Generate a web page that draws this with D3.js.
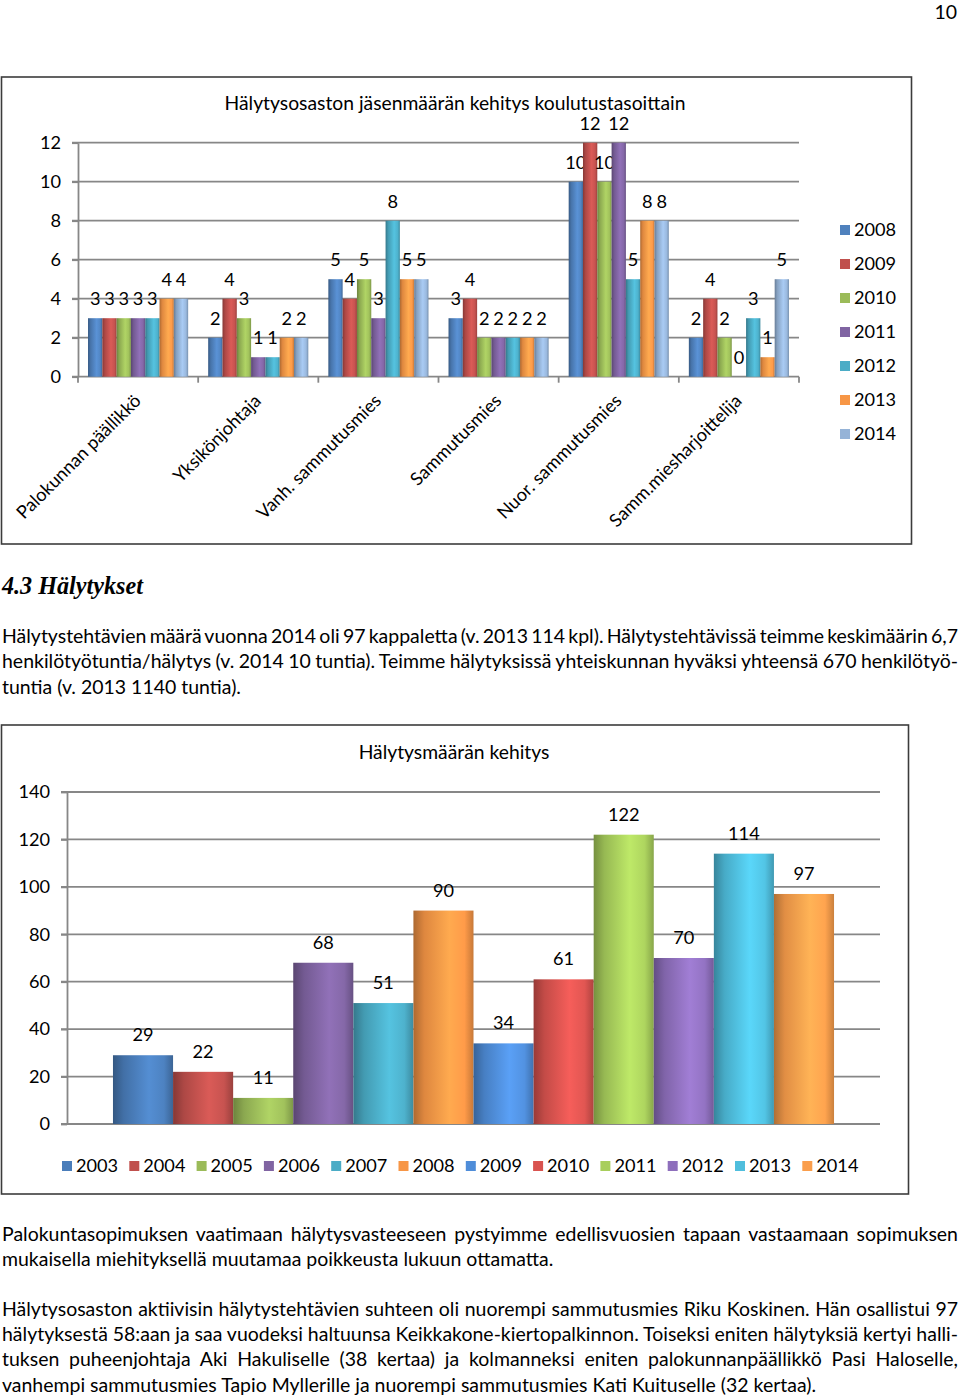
<!DOCTYPE html>
<html><head><meta charset="utf-8">
<script src="https://cdn.jsdelivr.net/npm/d3@7"></script>
<style>body{margin:0;background:#fff}svg{display:block}</style>
</head><body>
<script>
// ---------- DATA ----------
const categories = ["Palokunnan päällikkö","Yksikönjohtaja","Vanh. sammutusmies","Sammutusmies","Nuor. sammutusmies","Samm.miesharjoittelija"];
const memberYears = ["2008","2009","2010","2011","2012","2013","2014"];
const members2008 = [3,2,5,3,10,2];
const members2009 = [3,4,4,4,12,4];
const members2010 = [3,3,5,2,10,2];
const members2011 = [3,1,3,2,12,0];
const members2012 = [3,1,8,2,5,3];
const members2013 = [4,2,5,2,8,1];
const members2014 = [4,2,5,2,8,5];
const memberSeries = [members2008,members2009,members2010,members2011,members2012,members2013,members2014];
const memberTicks = [0,2,4,6,8,10,12];
const memberColors = ["#4F81BD","#C0504D","#9BBB59","#8064A2","#4BACC6","#F79646","#95B3D7"];

const alarmYears = ["2003","2004","2005","2006","2007","2008","2009","2010","2011","2012","2013","2014"];
const alarmValues = [29,22,11,68,51,90,34,61,122,70,114,97];
const alarmTicks = [0,20,40,60,80,100,120,140];
const alarmColors = ["#4A7DBA","#C0504D","#9BBB59","#8064A2","#4BACC6","#F79646","#4F8DD9","#D9534F","#A8CE5C","#8E6FBC","#4FBEDD","#FA9E4C"];

const title1 = "Hälytysosaston jäsenmäärän kehitys koulutustasoittain";
const title2 = "Hälytysmäärän kehitys";
const heading = "4.3 Hälytykset";
const para1 = [
  ["Hälytystehtävien määrä vuonna 2014 oli 97 kappaletta (v. 2013 114 kpl). Hälytystehtävissä teimme keskimäärin 6,7", true],
  ["henkilötyötuntia/hälytys (v. 2014 10 tuntia). Teimme hälytyksissä yhteiskunnan hyväksi yhteensä 670 henkilötyö-", true],
  ["tuntia (v. 2013 1140 tuntia).", false]
];
const para2 = [
  ["Palokuntasopimuksen vaatimaan hälytysvasteeseen pystyimme edellisvuosien tapaan vastaamaan sopimuksen", true],
  ["mukaisella miehityksellä muutamaa poikkeusta lukuun ottamatta.", false]
];
const para3 = [
  ["Hälytysosaston aktiivisin hälytystehtävien suhteen oli nuorempi sammutusmies Riku Koskinen. Hän osallistui 97", true],
  ["hälytyksestä 58:aan ja saa vuodeksi haltuunsa Keikkakone-kiertopalkinnon. Toiseksi eniten hälytyksiä kertyi halli-", true],
  ["tuksen puheenjohtaja Aki Hakuliselle (38 kertaa) ja kolmanneksi eniten palokunnanpäällikkö Pasi Haloselle,", true],
  ["vanhempi sammutusmies Tapio Myllerille ja nuorempi sammutusmies Kati Kuituselle (32 kertaa).", false]
];

// ---------- SETUP ----------
const W = 960, H = 1397;
const FONT = "Lato, 'Open Sans', sans-serif";
const SERIF = "'Liberation Serif', 'DejaVu Serif', serif";
const svg = d3.select("body").append("svg").attr("width", W).attr("height", H);
const defs = svg.append("defs");

function measure(text, size, family, weight, style) {
  const t = svg.append("text").attr("font-family", family).attr("font-size", size)
    .attr("font-weight", weight || "normal").attr("font-style", style || "normal").text(text);
  const w = t.node().getComputedTextLength(); t.remove(); return w;
}
const bodySize = 17.7 * 551 / measure("mukaisella miehityksellä muutamaa poikkeusta lukuun ottamatta.", 17.7, FONT);
const titleSize = 17 * 461 / measure(title1, 17, FONT);
const chartSize = titleSize * 16 / 17;
const headSize = 21 * 141 / measure(heading, 21, SERIF, "bold", "italic");

function grad(color) {
  const id = "g" + color.slice(1);
  if (defs.select("#" + id).empty()) {
    const c = d3.color(color);
    const lg = defs.append("linearGradient").attr("id", id).attr("x1", 0).attr("x2", 1).attr("y1", 0).attr("y2", 0);
    [[0, c.darker(1.0)], [0.18, c.darker(0.3)], [0.6, c.brighter(0.35)], [0.85, c.brighter(0.1)], [1, c.darker(0.6)]]
      .forEach(([o, col]) => lg.append("stop").attr("offset", o).attr("stop-color", col));
  }
  return `url(#${id})`;
}

function textLine(x, y, text, justifyTo, size, family) {
  const t = svg.append("text").attr("x", x).attr("y", y).attr("font-family", family || FONT)
    .attr("font-size", size || bodySize).attr("fill", "#000").text(text);
  if (justifyTo) {
    const w = t.node().getComputedTextLength();
    const n = (text.match(/ /g) || []).length;
    if (n) t.attr("word-spacing", (justifyTo - x - w) / n);
  }
  return t;
}

const GRID = "#878787", FRAME = "#3c3c3c";

// page number
textLine(957, 19, "10", false, bodySize).attr("text-anchor", "end");

// ---------- CHART 1 ----------
const c1 = {left: 78, right: 799, top: 142.7, bottom: 376.7};
svg.append("rect").attr("x", 1.5).attr("y", 77).attr("width", 910).attr("height", 467)
  .attr("fill", "none").attr("stroke", FRAME).attr("stroke-width", 1.6);
svg.append("text").attr("x", 455).attr("y", 110).attr("text-anchor", "middle")
  .attr("font-family", FONT).attr("font-size", titleSize).text(title1);

const y1 = d3.scaleLinear().domain([0, 12]).range([c1.bottom, c1.top]);
const x0 = d3.scaleBand().domain(categories).range([c1.left, c1.right]);
const x1 = d3.scaleBand().domain(memberYears).range([0, x0.bandwidth()]).paddingOuter(0.7);

const g1 = svg.append("g");
g1.selectAll("line.grid").data(memberTicks).join("line").attr("class", "grid")
  .attr("x1", c1.left - 6).attr("x2", c1.right).attr("y1", d => y1(d)).attr("y2", d => y1(d))
  .attr("stroke", GRID).attr("stroke-width", 1.8);
const ax1 = g1.append("g").attr("transform", `translate(${c1.left},0)`)
  .call(d3.axisLeft(y1).tickValues(memberTicks).tickSizeInner(6).tickSizeOuter(0).tickPadding(11));
ax1.select(".domain").attr("stroke", GRID).attr("stroke-width", 1.8);
ax1.selectAll(".tick line").attr("stroke", GRID).attr("stroke-width", 1.8);
ax1.selectAll(".tick text").attr("font-family", FONT).attr("font-size", chartSize).attr("fill", "#000");
const bounds = categories.map(c => x0(c)).concat([c1.right]);
g1.selectAll("line.bt").data(bounds).join("line").attr("class", "bt")
  .attr("x1", d => d).attr("x2", d => d).attr("y1", c1.bottom).attr("y2", c1.bottom + 6)
  .attr("stroke", GRID).attr("stroke-width", 1.8);

memberYears.forEach((yr, i) => {
  const vals = memberSeries[i];
  g1.append("g").selectAll("rect").data(categories).join("rect")
    .attr("x", (c) => x0(c) + x1(yr)).attr("width", x1.bandwidth())
    .attr("y", (c, j) => y1(vals[j])).attr("height", (c, j) => c1.bottom - y1(vals[j]))
    .attr("fill", grad(memberColors[i]));
  g1.append("g").selectAll("text").data(categories).join("text")
    .attr("x", (c) => x0(c) + x1(yr) + x1.bandwidth() / 2)
    .attr("y", (c, j) => y1(vals[j]) - 13)
    .attr("text-anchor", "middle").attr("font-family", FONT).attr("font-size", chartSize)
    .text((c, j) => vals[j]);
});
g1.selectAll("text.cat").data(categories).join("text").attr("class", "cat")
  .attr("transform", c => `translate(${x0(c) + x0.bandwidth() / 2 + 4},402) rotate(-45)`)
  .attr("text-anchor", "end").attr("font-family", FONT).attr("font-size", chartSize).text(c => c);
const leg1 = g1.append("g");
memberYears.forEach((yr, i) => {
  const yc = 230 + i * 34;
  leg1.append("rect").attr("x", 840).attr("y", yc - 5).attr("width", 10).attr("height", 10).attr("fill", memberColors[i]);
  leg1.append("text").attr("x", 854).attr("y", yc + 6).attr("font-family", FONT).attr("font-size", chartSize).text(yr);
});

// ---------- TEXT BETWEEN ----------
svg.append("text").attr("x", 2).attr("y", 594).attr("font-family", SERIF).attr("font-weight", "bold")
  .attr("font-style", "italic").attr("font-size", headSize).text(heading);
para1.forEach(([t, j], i) => textLine(2, 643 + i * 25.4, t, j ? 958 : null));

// ---------- CHART 2 ----------
const c2 = {left: 67, right: 880, top: 792, bottom: 1124};
svg.append("rect").attr("x", 1.5).attr("y", 725).attr("width", 907).attr("height", 469)
  .attr("fill", "none").attr("stroke", FRAME).attr("stroke-width", 1.6);
svg.append("text").attr("x", 454).attr("y", 759).attr("text-anchor", "middle")
  .attr("font-family", FONT).attr("font-size", titleSize).text(title2);

const y2 = d3.scaleLinear().domain([0, 140]).range([c2.bottom, c2.top]);
const x2 = d3.scaleBand().domain(alarmYears).range([c2.left, c2.right]).paddingInner(0).paddingOuter(0.765);
const g2 = svg.append("g");
g2.selectAll("line.grid").data(alarmTicks).join("line").attr("class", "grid")
  .attr("x1", c2.left - 6).attr("x2", c2.right).attr("y1", d => y2(d)).attr("y2", d => y2(d))
  .attr("stroke", GRID).attr("stroke-width", 1.8);
const ax2 = g2.append("g").attr("transform", `translate(${c2.left},0)`)
  .call(d3.axisLeft(y2).tickValues(alarmTicks).tickSizeInner(6).tickSizeOuter(0).tickPadding(11));
ax2.select(".domain").attr("stroke", GRID).attr("stroke-width", 1.8);
ax2.selectAll(".tick line").attr("stroke", GRID).attr("stroke-width", 1.8);
ax2.selectAll(".tick text").attr("font-family", FONT).attr("font-size", chartSize).attr("fill", "#000");

g2.selectAll("rect.bar").data(alarmYears).join("rect").attr("class", "bar")
  .attr("x", d => x2(d)).attr("width", x2.bandwidth())
  .attr("y", (d, i) => y2(alarmValues[i])).attr("height", (d, i) => c2.bottom - y2(alarmValues[i]))
  .attr("fill", (d, i) => grad(alarmColors[i]));
g2.selectAll("text.val").data(alarmYears).join("text").attr("class", "val")
  .attr("x", d => x2(d) + x2.bandwidth() / 2).attr("y", (d, i) => y2(alarmValues[i]) - 14)
  .attr("text-anchor", "middle").attr("font-family", FONT).attr("font-size", chartSize)
  .text((d, i) => alarmValues[i]);
const lx = d3.scaleBand().domain(alarmYears).range([62, 62 + 12 * 67.3]);
alarmYears.forEach((yr, i) => {
  g2.append("rect").attr("x", lx(yr)).attr("y", 1161).attr("width", 10).attr("height", 10).attr("fill", alarmColors[i]);
  g2.append("text").attr("x", lx(yr) + 14).attr("y", 1172).attr("font-family", FONT).attr("font-size", chartSize).text(yr);
});

// ---------- TEXT BELOW ----------
para2.forEach(([t, j], i) => textLine(2, 1241 + i * 25.2, t, j ? 958 : null));
para3.forEach(([t, j], i) => textLine(2, 1316 + i * 25.2, t, j ? 958 : null));
</script>
</body></html>
